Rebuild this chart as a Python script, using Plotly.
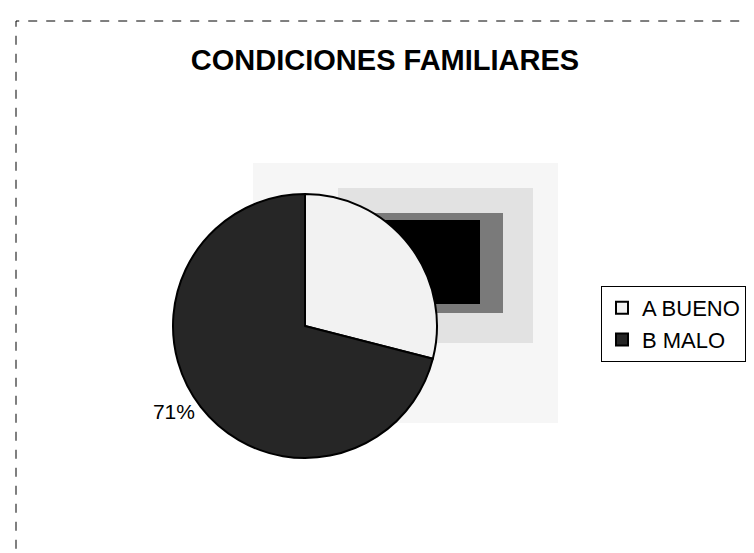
import plotly.graph_objects as go

labels = ["A BUENO", "B MALO"]
values = [29, 71]
colors = ["#f2f2f2", "#262626"]
title_text = "CONDICIONES FAMILIARES"

W, H = 754, 553

# pie domain (pixels), compensated for Plotly's offset with outside labels
px_left, px_right, px_top, px_bottom = 165, 429, 184, 452

fig = go.Figure()
fig.add_trace(go.Pie(
    labels=labels,
    values=values,
    sort=False,
    direction="clockwise",
    rotation=0,
    marker=dict(colors=colors, line=dict(color="#000000", width=2)),
    texttemplate="%{percent:.0%}",
    textposition="outside",
    textfont=dict(family="Liberation Sans, Arial", size=21, color="#000000"),
    domain=dict(x=[px_left / W, px_right / W], y=[(H - px_bottom) / H, (H - px_top) / H]),
    showlegend=True,
))

def rect(x0, x1, y0, y1, color):
    return dict(
        type="rect", xref="paper", yref="paper", layer="below",
        x0=x0 / W, x1=x1 / W, y0=1 - y1 / H, y1=1 - y0 / H,
        line=dict(width=0), fillcolor=color,
    )

fig.update_layout(
    width=W, height=H,
    margin=dict(l=0, r=0, t=0, b=0),
    paper_bgcolor="white",
    plot_bgcolor="white",
    title=dict(
        text="<b>" + title_text + "</b>",
        x=377 / W, xanchor="center",
        y=1 - 42 / H, yanchor="top",
        font=dict(family="Liberation Sans, Arial", size=29, color="#000000"),
    ),
    legend=dict(
        x=593 / W, xanchor="left",
        y=1 - 278 / H, yanchor="top",
        bordercolor="#000000", borderwidth=1,
        bgcolor="white",
        font=dict(family="Liberation Sans, Arial", size=22, color="#000000"),
    ),
    shapes=[
        rect(245, 550, 155, 415, "#f6f6f6"),
        rect(330, 525, 180, 335, "#e2e2e2"),
        rect(350, 495, 205, 305, "#7a7a7a"),
        rect(360, 472, 212, 296, "#000000"),
        dict(
            type="rect", xref="paper", yref="paper",
            x0=8 / W, x1=1.02, y0=-0.02, y1=1 - 13 / H,
            line=dict(color="#000000", width=1, dash="dash"),
            fillcolor="rgba(0,0,0,0)",
        ),
    ],
)

fig.write_html("out.html")
